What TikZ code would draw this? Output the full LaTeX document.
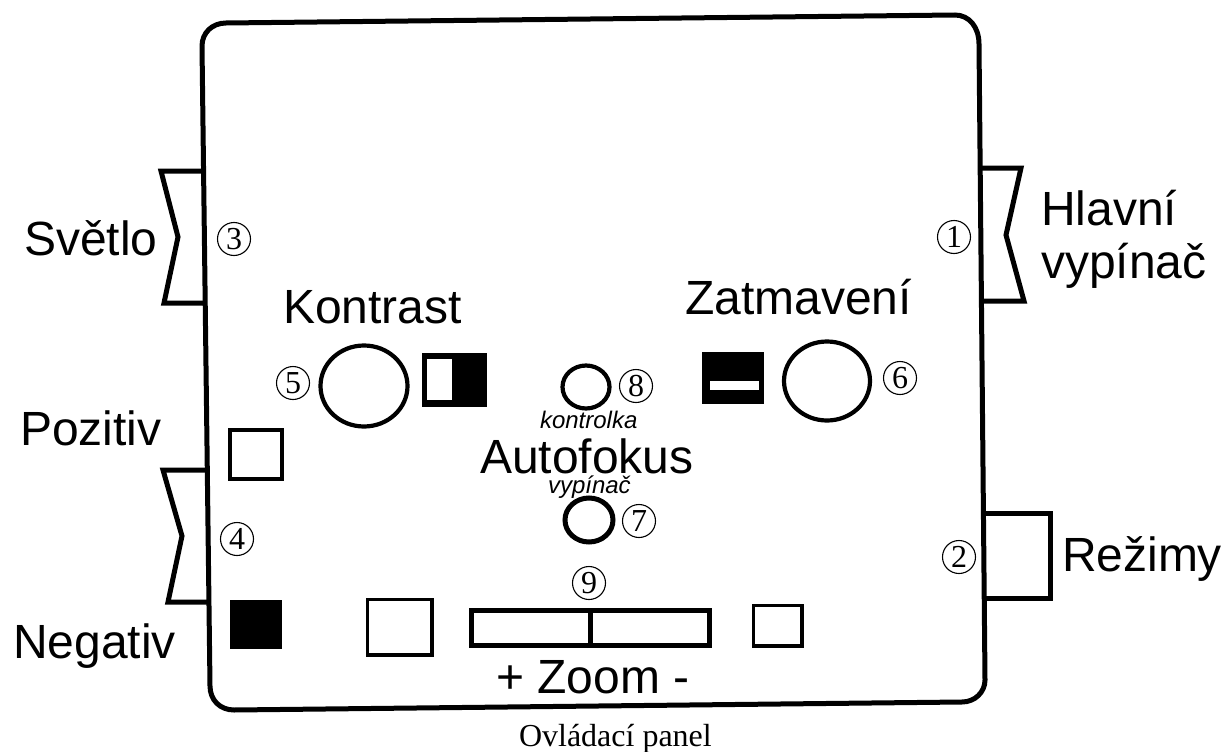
\documentclass[tikz,border=0pt]{standalone}
\usepackage{fontspec}
\setmainfont{Liberation Sans}
\newfontfamily\serifcap{Liberation Serif}
\usetikzlibrary{shapes.geometric}
\newcommand{\fs}[1]{\fontsize{#1}{#1}\selectfont}
\tikzset{
  every node/.style={inner sep=0pt,outer sep=0pt},
  heavy/.style={line width=5pt,line join=miter,black},
  mid/.style={line width=3.2pt,black},
  lab/.style={anchor=base west,font=\fs{48}},
  tiny lab/.style={anchor=base west,font=\fs{24}\itshape},
  num/.style={circle,draw,line width=1.1pt,minimum size=33pt,font=\serifcap\fs{32}},
  dial/.style={ellipse,draw,line width=4.2pt,fill=white},
}
\begin{document}
\begin{tikzpicture}[x=1pt,y=-1pt]
\useasboundingbox (0,0) rectangle (1226,752);
\fill[white] (0,0) rectangle (1226,752);
% body
\draw[heavy] (226,23) -- (955,15) .. controls (969,15) and (979,27) .. (979,44)
  -- (985,680) .. controls (985,692) and (975,702) .. (962,702)
  -- (234,710) .. controls (220,710) and (210,700) .. (210,686)
  -- (202,46) .. controls (202,33) and (212,23) .. (226,23) -- cycle;
% rocker tabs
\draw[heavy] (204,171) -- (161,171) -- (178,237) -- (164,303) -- (206,303);
\draw[heavy] (207,470) -- (163,470) -- (182,536) -- (168,602) -- (210,602);
\draw[heavy] (981,168) -- (1021,168) -- (1006,235) -- (1024,301) -- (983,301);
\draw[heavy] (985,513) -- (1050,513) -- (1050,598) -- (986,598);
% squares
\draw[mid] (230,430) rectangle (282,479);
\fill (230,600) rectangle (282,649);
\draw[mid] (367.5,599.5) rectangle (432,655);
\draw[mid] (753.5,605.5) rectangle (802,646);
\draw[heavy] (471,610) rectangle (709,645);
\draw[heavy] (590,610) -- (590,645);
% switches
\fill (422,353) rectangle (487,407);
\fill[white] (427,359) rectangle (452,400);
\fill (702,352) rectangle (764,404);
\fill[white] (710,381) rectangle (759,390);
% dials
\node[dial,minimum width=87pt,minimum height=81pt] (kontrastdial) at (364,386) {};
\node[dial,minimum width=86pt,minimum height=79pt] (zatmdial) at (827,381) {};
\node[dial,minimum width=47pt,minimum height=43pt] (kontrolka) at (586,387) {};
\node[dial,line width=5pt,minimum width=48pt,minimum height=44pt] (afswitch) at (589,520) {};
% numbers
\node[num] (n1) at (954,237) {1};
\node[num] (n2) at (959,557) {2};
\node[num] (n3) at (234,239) {3};
\node[num] (n4) at (237,539) {4};
\node[num] (n5) at (293,383) {5};
\node[num] (n6) at (900,378) {6};
\node[num] (n7) at (639,521) {7};
\node[num] (n8) at (636,386) {8};
\node[num] (n9) at (589,583) {9};
% labels
\node[lab] (svetlo) at (24,255) {Světlo};
\node[lab] (pozitiv) at (20,445) {Pozitiv};
\node[lab] (negativ) at (13,658) {Negativ};
\node[lab] (hlavni) at (1041,225) {Hlavní};
\node[lab] (vypinac) at (1041,278) {vypínač};
\node[lab] (rezimy) at (1062,571) {Režimy};
\node[lab] (kontrast) at (283,323) {Kontrast};
\node[lab] (zatmaveni) at (685,314) {Zatmavení};
\node[lab] (autofokus) at (480,473) {Autofokus};
\node[lab] (zoom) at (496,693) {+ Zoom -};
\node[tiny lab] (kontrolkat) at (540,428) {kontrolka};
\node[tiny lab] (vypinact) at (548,493) {vypínač};
\node[anchor=base west,font=\serifcap\fs{32}] (caption) at (519,746) {Ovládací panel};
\end{tikzpicture}
\end{document}
